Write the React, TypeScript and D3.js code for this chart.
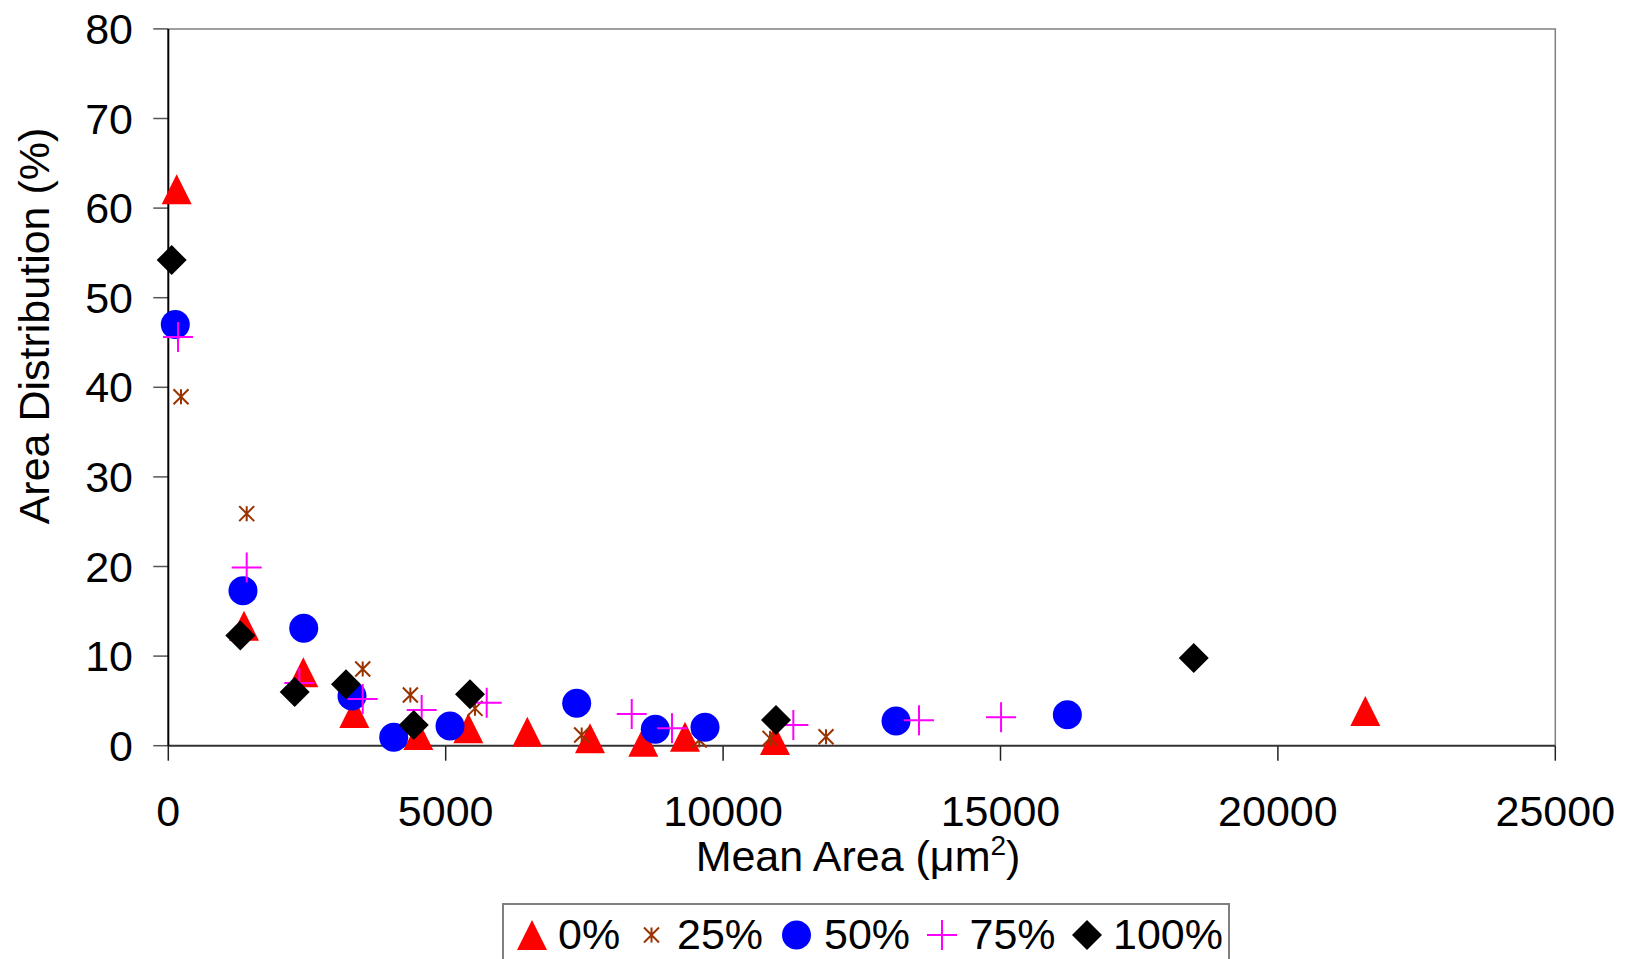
import * as d3 from "d3";

const W = 1629;
const H = 959;

const xTicks = [0, 5000, 10000, 15000, 20000, 25000];
const yTicks = [0, 10, 20, 30, 40, 50, 60, 70, 80];

const seriesNames = ["0%", "25%", "50%", "75%", "100%"];

// [mean area, area distribution]
const pct0 = [
  [151, 62.1], [1364, 13.4], [2434, 8.2], [3353, 3.65], [4506, 1.2], [5408, 1.94],
  [6471, 1.56], [7601, 0.82], [8562, 0.45], [9313, 1.0], [10936, 0.64], [21576, 3.87],
];
const pct25 = [
  [229, 38.95], [1413, 25.9], [3504, 8.56], [4363, 5.66], [5528, 4.17], [7451, 1.19],
  [9571, 0.64], [10846, 0.82], [11855, 1.0],
];
const pct50 = [
  [126, 47.0], [1346, 17.3], [2441, 13.1], [3311, 5.55], [4063, 0.94], [5078, 2.2],
  [7361, 4.73], [8778, 1.83], [9674, 2.05], [13117, 2.76], [16205, 3.46],
];
const pct75 = [
  [175, 45.6], [1413, 19.9], [2362, 7.0], [3504, 5.2], [4567, 3.98], [5739, 4.8],
  [8353, 3.54], [9079, 1.94], [11266, 2.31], [13531, 2.83], [15010, 3.17],
];
const pct100 = [
  [61, 54.2], [1298, 12.3], [2278, 6.0], [3203, 6.85], [4424, 2.3], [5438, 5.73],
  [10954, 2.87], [18483, 9.79],
];

const seriesData = [pct0, pct25, pct50, pct75, pct100];
const markerKinds = ["triangle", "star", "circle", "plus", "diamond"];
const colors = ["#ff0000", "#993300", "#0000ff", "#ff00ff", "#000000"];

const font = "'Liberation Sans', Arial, sans-serif";

function Marker({ kind, cx, cy, color }: { kind: string; cx: number; cy: number; color: string }) {
  const s = 15;
  if (kind === "triangle") {
    return <path d={`M${cx},${cy - s}L${cx + s},${cy + s}L${cx - s},${cy + s}Z`} fill={color} />;
  }
  if (kind === "circle") {
    return <circle cx={cx} cy={cy} r={14.5} fill={color} />;
  }
  if (kind === "diamond") {
    return <path d={`M${cx},${cy - s}L${cx + s},${cy}L${cx},${cy + s}L${cx - s},${cy}Z`} fill={color} />;
  }
  if (kind === "plus") {
    return (
      <path d={`M${cx - s},${cy}H${cx + s}M${cx},${cy - s}V${cy + s}`} stroke={color} strokeWidth={2} fill="none" />
    );
  }
  const a = 7.5;
  return (
    <path
      d={`M${cx - a},${cy - a}L${cx + a},${cy + a}M${cx + a},${cy - a}L${cx - a},${cy + a}M${cx},${cy - a}V${cy + a}`}
      stroke={color}
      strokeWidth={2}
      fill="none"
    />
  );
}

const legendMarkerX = [532, 651.5, 796.5, 942, 1087];
const legendTextX = [558, 677, 824, 969.5, 1113];

export default function App() {
  const x = d3.scaleLinear().domain([0, 25000]).range([168.3, 1555.3]);
  const y = d3.scaleLinear().domain([0, 80]).range([745.7, 28.9]);
  const [x0, x1] = x.range();
  const [y0, y1] = y.range();

  return (
    <svg width={W} height={H} style={{ position: "absolute", left: 0, top: 0, background: "#fff" }}>
      <rect width={W} height={H} fill="#fff" />
      {/* frame */}
      <path d={`M${x0},${y1}H${x1}V${y0}`} stroke="#808080" strokeWidth={1.5} fill="none" />
      {/* y ticks */}
      {yTicks.map((t) => (
        <g key={t}>
          <line x1={x0 - 15} x2={x0} y1={y(t)} y2={y(t)} stroke="#555" strokeWidth={1.5} />
          <text x={133} y={y(t) + 15} textAnchor="end" fontFamily={font} fontSize={43} fill="#000">
            {t}
          </text>
        </g>
      ))}
      {/* x ticks */}
      {xTicks.map((t) => (
        <g key={t}>
          <line x1={x(t)} x2={x(t)} y1={y0} y2={y0 + 15} stroke="#222" strokeWidth={1.5} />
          <text x={x(t)} y={826} textAnchor="middle" fontFamily={font} fontSize={43} fill="#000">
            {t}
          </text>
        </g>
      ))}
      <line x1={x0} x2={x1} y1={y0} y2={y0} stroke="#333" strokeWidth={2} />
      <line x1={x0} x2={x0} y1={y1} y2={y0} stroke="#000" strokeWidth={2} />

      {/* axis titles */}
      <text x={858} y={871} textAnchor="middle" fontFamily={font} fontSize={43} fill="#000">
        Mean Area (μm
        <tspan fontSize={28} dy={-16}>2</tspan>
        <tspan dy={16}>)</tspan>
      </text>
      <text
        transform={`translate(49,326) rotate(-90)`}
        textAnchor="middle"
        fontFamily={font}
        fontSize={43}
        fill="#000"
      >
        Area Distribution (%)
      </text>

      {/* points */}
      {seriesData.map((pts, i) => (
        <g key={seriesNames[i]}>
          {pts.map((p, j) => (
            <Marker key={j} kind={markerKinds[i]} cx={x(p[0])} cy={y(p[1])} color={colors[i]} />
          ))}
        </g>
      ))}

      {/* legend */}
      <rect x={503} y={904} width={726} height={80} fill="#fff" stroke="#808080" strokeWidth={2} />
      {seriesNames.map((name, i) => (
        <g key={name}>
          <Marker kind={markerKinds[i]} cx={legendMarkerX[i]} cy={935} color={colors[i]} />
          <text x={legendTextX[i]} y={949} fontFamily={font} fontSize={43} fill="#000">
            {name}
          </text>
        </g>
      ))}
    </svg>
  );
}
